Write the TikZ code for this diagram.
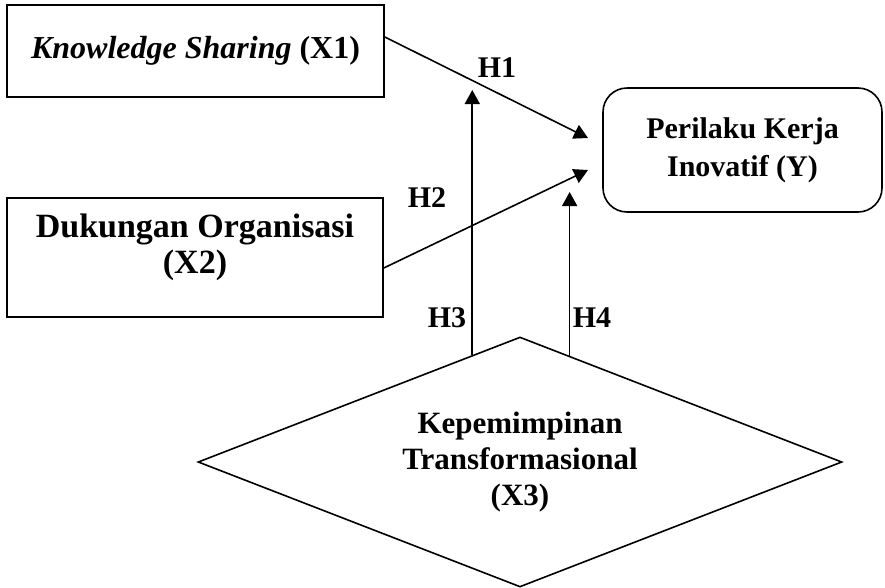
\documentclass[tikz,border=0pt]{standalone}
\usepackage{fontspec}
\setmainfont{Liberation Serif}
\usetikzlibrary{arrows.meta}
\usetikzlibrary{shapes.geometric}

\begin{document}
\begin{tikzpicture}[x=1pt, y=-1pt, >={Triangle[length=14pt,width=15pt]},
  box/.style={draw, line width=1.6pt, inner sep=0pt, align=center, font=\bfseries},
  link/.style={line width=1.6pt},
  hyp/.style={font=\fontsize{30}{34}\selectfont\bfseries, inner sep=0pt}]
\useasboundingbox (0,0) rectangle (885,587);
  % variables
  \node[box, minimum width=377pt, minimum height=92pt, font=\fontsize{32}{38}\selectfont\bfseries]
     (x1) at (195.5,51) {\textit{Knowledge Sharing} (X1)};
  \node[box, minimum width=376pt, minimum height=119pt] (x2box) at (195,257.5) {};
  \node[align=center, inner sep=0pt, font=\fontsize{34}{36}\selectfont\bfseries]
     (x2) at ([yshift=10pt]x2box.center) {Dukungan Organisasi\\(X2)};
  \node[box, rounded corners=24pt, minimum width=279pt, minimum height=124pt,
     font=\fontsize{30}{38}\selectfont\bfseries] (y) at (742.5,150) {Perilaku Kerja\\Inovatif (Y)};
  \node[box, diamond, aspect=2.576, minimum width=644pt, minimum height=250pt,
     font=\fontsize{31}{36}\selectfont\bfseries] (dia) at (520,462) {Kepemimpinan\\Transformasional\\(X3)};
  % arrow tips
  \coordinate (h1tip) at (588,138);
  \coordinate (h2tip) at (588,170);
  \coordinate (h3tip) at (471,90);
  \coordinate (h4tip) at (568,192);
  \draw[link,->] ([yshift=14pt]x1.east) -- (h1tip);
  \draw[link,->] ([yshift=-10.5pt]x2box.east) -- (h2tip);
  \draw[link,->] (dia.114.8) -- (dia.114.8 |- h3tip);
  \draw[link,->] (dia.65.7) -- (dia.65.7 |- h4tip);
  % labels
  \node[hyp] (lh1) at (497,68) {H1};
  \node[hyp] (lh2) at (427,198) {H2};
  \node[hyp] (lh3) at (447,318) {H3};
  \node[hyp] (lh4) at (592,318) {H4};
\end{tikzpicture}
\end{document}
